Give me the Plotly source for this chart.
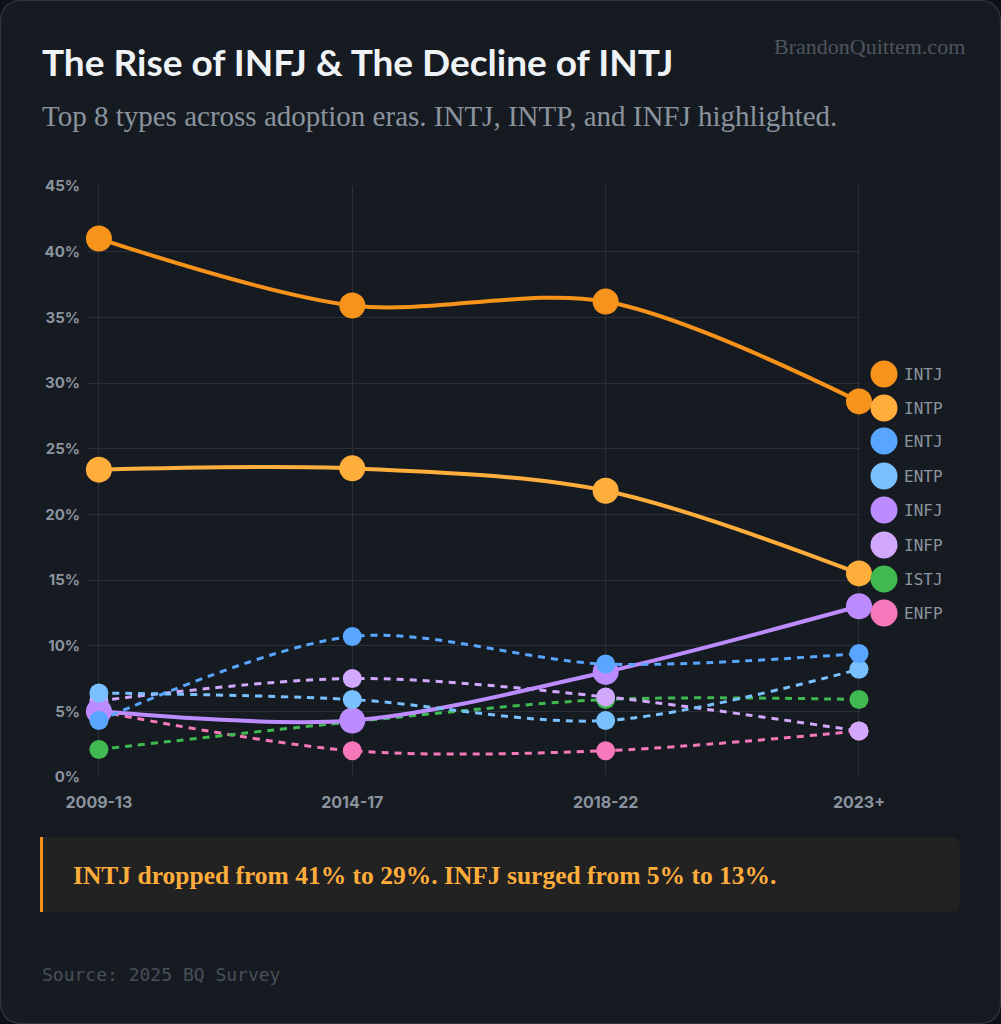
import plotly.graph_objects as go

categories = ["2009-13", "2014-17", "2018-22", "2023+"]
types = ["INTJ", "INTP", "ENTJ", "ENTP", "INFJ", "INFP", "ISTJ", "ENFP"]
INTJ = [41.0, 35.9, 36.2, 28.6]
INTP = [23.4, 23.5, 21.8, 15.5]
ENTJ = [4.3, 10.7, 8.6, 9.4]
ENTP = [6.4, 5.9, 4.3, 8.2]
INFJ = [5.0, 4.3, 8.0, 13.0]
INFP = [5.8, 7.5, 6.1, 3.5]
ISTJ = [2.1, 4.2, 5.9, 5.9]
ENFP = [5.0, 2.0, 2.0, 3.5]
values = {"INTJ": INTJ, "INTP": INTP, "ENTJ": ENTJ, "ENTP": ENTP,
          "INFJ": INFJ, "INFP": INFP, "ISTJ": ISTJ, "ENFP": ENFP}
highlighted = ["INTJ", "INTP", "INFJ"]
colors = {"INTJ": "#f7931a", "INTP": "#ffad3b", "ENTJ": "#58a6ff", "ENTP": "#79c0ff",
          "INFJ": "#bc8cff", "INFP": "#d2a8ff", "ISTJ": "#3fb950", "ENFP": "#f778ba"}

W_PX, H_PX = 1001, 1024
L, R, T, B = 87, 860, 186, 777
PW, PH = R - L, B - T


def X(px):
    return (px - L) / PW


def Y(py):
    return (B - py) / PH


fig = go.Figure()
xs = list(range(len(categories)))
for t in reversed(types):
    hi = t in highlighted
    fig.add_trace(go.Scatter(
        x=xs, y=values[t], mode="lines+markers", name=t,
        line=dict(color=colors[t], width=4 if hi else 3,
                  dash="solid" if hi else "7px,6px", shape="spline", smoothing=0.9),
        marker=dict(color=colors[t], size=26 if hi else 19, line=dict(width=0)),
        cliponaxis=False, showlegend=False,
    ))

shapes = []


def rounded_rect(x0, y0, x1, y1, r, left_round=True):
    # pixel coords -> path in paper coords
    rx, ry = r / PW, r / PH
    a, b, c, d = X(x0), Y(y0), X(x1), Y(y1)  # b top (larger), d bottom
    if left_round:
        p = f"M {a+rx},{b} L {c-rx},{b} Q {c},{b} {c},{b-ry} L {c},{d+ry} Q {c},{d} {c-rx},{d} " \
            f"L {a+rx},{d} Q {a},{d} {a},{d+ry} L {a},{b-ry} Q {a},{b} {a+rx},{b} Z"
    else:
        p = f"M {a},{b} L {c-rx},{b} Q {c},{b} {c},{b-ry} L {c},{d+ry} Q {c},{d} {c-rx},{d} " \
            f"L {a},{d} Z"
    return p


# card
shapes.append(dict(type="path", xref="paper", yref="paper", layer="below",
                   path=rounded_rect(0.5, 0.5, 1000.5, 1023.5, 22),
                   fillcolor="#161b22", line=dict(color="#30363d", width=1.2)))
# callout box
shapes.append(dict(type="path", xref="paper", yref="paper", layer="below",
                   path=rounded_rect(40, 837, 960, 912, 10, left_round=False),
                   fillcolor="#222223", line=dict(width=0)))
shapes.append(dict(type="rect", xref="paper", yref="paper", layer="below",
                   x0=X(40), x1=X(43), y0=Y(837), y1=Y(912),
                   fillcolor="#f7931a", line=dict(width=0)))

annotations = []
# legend
leg_y = [374, 408, 441, 476, 510, 545, 579, 613]
for t, cy in zip(types, leg_y):
    r = 13.5
    shapes.append(dict(type="circle", xref="paper", yref="paper", layer="above",
                       x0=X(884 - r), x1=X(884 + r), y0=Y(cy + r), y1=Y(cy - r),
                       fillcolor=colors[t], line=dict(width=0)))
    annotations.append(dict(x=X(902), y=Y(cy), xref="paper", yref="paper", text=t,
                            showarrow=False, xanchor="left", yanchor="middle",
                            font=dict(family="DejaVu Sans Mono", size=16, color="#8b949e")))

annotations += [
    dict(x=X(40), y=Y(62), xref="paper", yref="paper", showarrow=False,
         text="The Rise of INFJ &amp; The Decline of INTJ", xanchor="left", yanchor="middle",
         font=dict(family="Lato", size=37, color="#f0f3f6", weight="bold")),
    dict(x=X(40), y=Y(116), xref="paper", yref="paper", showarrow=False,
         text="Top 8 types across adoption eras. INTJ, INTP, and INFJ highlighted.",
         xanchor="left", yanchor="middle",
         font=dict(family="Liberation Serif", size=29, color="#8b949e")),
    dict(x=X(967), y=Y(46), xref="paper", yref="paper", showarrow=False,
         text="BrandonQuittem.com", xanchor="right", yanchor="middle",
         font=dict(family="Liberation Serif", size=22, color="#4d545e")),
    dict(x=X(71), y=Y(875), xref="paper", yref="paper", showarrow=False,
         text="INTJ dropped from 41% to 29%. INFJ surged from 5% to 13%.",
         xanchor="left", yanchor="middle",
         font=dict(family="Liberation Serif", size=25.5, color="#ffad3b", weight="bold")),
    dict(x=X(40), y=Y(975), xref="paper", yref="paper", showarrow=False,
         text="Source: 2025 BQ Survey", xanchor="left", yanchor="middle",
         font=dict(family="DejaVu Sans Mono", size=18, color="#484f58")),
]

fig.update_layout(
    width=W_PX, height=H_PX,
    margin=dict(l=L, r=W_PX - R, t=T, b=H_PX - B, pad=0),
    paper_bgcolor="#0d1117", plot_bgcolor="rgba(0,0,0,0)",
    shapes=shapes, annotations=annotations, showlegend=False,
    xaxis=dict(range=[-0.047, 3.004], tickvals=xs, ticktext=categories,
               showgrid=True, gridcolor="#2a2f37", gridwidth=1, zeroline=False,
               showline=False, ticks="", ticklabelstandoff=14,
               tickfont=dict(family="Inter", size=16, color="#8b949e", weight="bold")),
    yaxis=dict(range=[0, 45], dtick=5, ticksuffix="%",
               showgrid=True, gridcolor="#2a2f37", gridwidth=1, zeroline=False,
               showline=False, ticks="", ticklabelstandoff=6,
               tickfont=dict(family="Inter", size=15, color="#8b949e", weight="bold")),
)

fig.write_html("out.html")
